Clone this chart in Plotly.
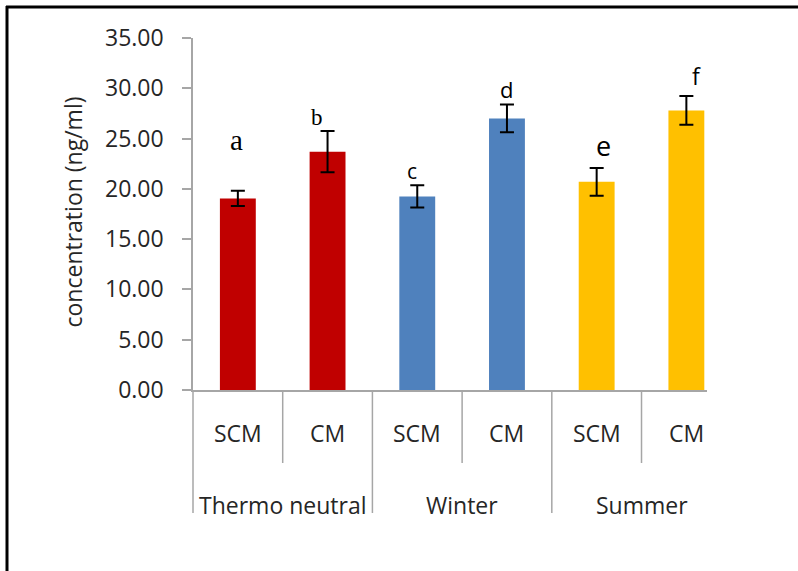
import plotly.graph_objects as go

# Hormone concentration by season and treatment group
seasons = ["Thermo neutral", "Winter", "Summer"]
treatments = ["SCM", "CM", "SCM", "CM", "SCM", "CM"]
concentration = [19.05, 23.70, 19.25, 27.00, 20.70, 27.80]
std_error = [0.75, 2.05, 1.10, 1.38, 1.38, 1.43]
bar_colors = ["#C00000", "#C00000", "#4F81BD", "#4F81BD", "#FFC000", "#FFC000"]
y_ticks = [0, 5, 10, 15, 20, 25, 30, 35]

# significance letters: text, font, size, horizontal nudge and height
letters = ["a", "b", "c", "d", "e", "f"]
letter_fonts = ["Liberation Serif", "Liberation Serif", "Open Sans", "Open Sans", "Open Sans", "Open Sans"]
letter_sizes = [29, 23, 21, 22, 27, 23]
letter_dx = [-0.02, -0.12, -0.06, 0.0, 0.075, 0.11]
letter_y = [24.9, 27.1, 21.8, 29.9, 24.3, 31.2]

W, H = 798, 571
ML, MR, MT, MB = 193, 91, 38, 181
PW, PH = W - ML - MR, H - MT - MB
X_MIN, X_MAX = -0.5, 5.23
AXIS_GREY = "#A6A6A6"
TEXT = "#262626"
FONT = "Open Sans"

xs = list(range(len(treatments)))


def px_to_xpaper(p):
    return (p - ML) / PW


def px_to_ypaper(p):
    return (H - MB - p) / PH


def idx_to_xpaper(v):
    return (v - X_MIN) / (X_MAX - X_MIN)


fig = go.Figure()
fig.add_trace(go.Bar(
    x=xs,
    y=concentration,
    width=0.4,
    marker=dict(color=bar_colors, line=dict(width=0)),
    error_y=dict(type="data", array=std_error, visible=True,
                 color="black", thickness=2, width=7),
    showlegend=False,
    hoverinfo="skip",
))

annotations = []
# treatment labels under each bar
for i, t in enumerate(treatments):
    annotations.append(dict(
        x=i, y=px_to_ypaper(433), xref="x", yref="paper",
        text=t, showarrow=False, xanchor="center", yanchor="middle",
        font=dict(family=FONT, size=23, color=TEXT),
    ))
# season labels centred under each pair
for g, s in enumerate(seasons):
    annotations.append(dict(
        x=2 * g + 0.5, y=px_to_ypaper(505), xref="x", yref="paper",
        text=s, showarrow=False, xanchor="center", yanchor="middle",
        font=dict(family=FONT, size=23, color=TEXT),
    ))
# significance letters
for i, lt in enumerate(letters):
    annotations.append(dict(
        x=i + letter_dx[i], y=letter_y[i], xref="x", yref="y",
        text=lt, showarrow=False, xanchor="center", yanchor="middle",
        font=dict(family=letter_fonts[i], size=letter_sizes[i], color="black"),
    ))
# y-axis title
annotations.append(dict(
    x=px_to_xpaper(72), y=px_to_ypaper(212.5), xref="paper", yref="paper",
    text="concentration (ng/ml)", textangle=-90, showarrow=False,
    xanchor="center", yanchor="middle",
    font=dict(family=FONT, size=23, color=TEXT),
))

shapes = []
# category dividers below the x axis: short between treatments, long between seasons
for b in range(len(treatments)):
    edge = b - 0.5
    if edge < X_MIN or edge > X_MAX:
        continue
    bottom_px = 513 if b % 2 == 0 else 463
    shapes.append(dict(
        type="line", xref="paper", yref="paper",
        x0=idx_to_xpaper(edge), x1=idx_to_xpaper(edge),
        y0=0, y1=px_to_ypaper(bottom_px),
        line=dict(color=AXIS_GREY, width=1.5),
    ))
# outer frame (left and top edges)
shapes.append(dict(type="line", xref="paper", yref="paper",
                   x0=px_to_xpaper(7), x1=px_to_xpaper(7),
                   y0=px_to_ypaper(6), y1=px_to_ypaper(H + 5),
                   line=dict(color="black", width=3)))
shapes.append(dict(type="line", xref="paper", yref="paper",
                   x0=px_to_xpaper(6), x1=px_to_xpaper(W + 5),
                   y0=px_to_ypaper(7), y1=px_to_ypaper(7),
                   line=dict(color="black", width=3)))

fig.update_layout(
    width=W, height=H,
    margin=dict(l=ML, r=MR, t=MT, b=MB, pad=0),
    paper_bgcolor="white", plot_bgcolor="white",
    font=dict(family=FONT, color=TEXT),
    bargap=0.6,
    annotations=annotations,
    shapes=shapes,
    xaxis=dict(
        range=[X_MIN, X_MAX], showticklabels=False, ticks="",
        showgrid=False, zeroline=False,
        showline=True, linecolor=AXIS_GREY, linewidth=1.5,
    ),
    yaxis=dict(
        range=[0, 35], tickvals=y_ticks, tickformat=".2f",
        ticks="outside", ticklen=9, tickcolor=AXIS_GREY, tickwidth=1.5,
        showgrid=False, zeroline=False,
        showline=True, linecolor=AXIS_GREY, linewidth=1.5,
        tickfont=dict(family=FONT, size=23, color=TEXT),
        ticklabelstandoff=14,
    ),
)

fig.write_html("out.html")
